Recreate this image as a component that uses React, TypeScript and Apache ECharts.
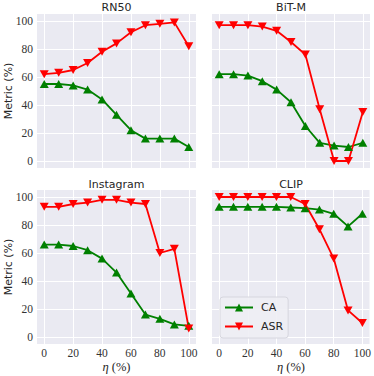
import React, { useEffect, useRef } from "react";
import * as echarts from "echarts";

const X = [0, 10, 20, 30, 40, 50, 60, 70, 80, 90, 100];
const TICKS = [0, 20, 40, 60, 80, 100];
const TITLES = ["RN50", "BiT-M", "Instagram", "CLIP"];
const RN50_CA = [55, 55, 54, 51, 44, 33, 22, 16, 16, 16, 10];
const RN50_ASR = [62, 63, 65, 70, 78, 84, 92, 97, 98, 99, 82];
const BITM_CA = [62, 62, 61, 57, 51, 42, 25, 13, 11, 10, 13];
const BITM_ASR = [97, 97, 97, 96, 93, 85, 76, 37, 0, 0, 35];
const INSTA_CA = [66, 66, 65, 62, 56, 46, 31, 16, 13, 9, 8];
const INSTA_ASR = [93, 93, 95, 96, 98, 98, 96, 95, 60, 63, 6];
const CLIP_CA = [93, 93, 93, 93, 93, 92.5, 92, 91, 88, 79, 88];
const CLIP_ASR = [100, 100, 100, 100, 100, 100, 95, 77, 56, 19, 10];

const CA_SETS = [RN50_CA, BITM_CA, INSTA_CA, CLIP_CA];
const ASR_SETS = [RN50_ASR, BITM_ASR, INSTA_ASR, CLIP_ASR];

export default function App() {
  const ref = useRef<HTMLDivElement>(null);
  useEffect(() => {
    if (!ref.current) return;
    const chart = echarts.init(ref.current, null, { renderer: "svg" });
    const grids = [
      { left: 37, top: 14, width: 159, height: 154 },
      { left: 212, top: 14, width: 158, height: 154 },
      { left: 37, top: 190, width: 159, height: 154 },
      { left: 212, top: 190, width: 158, height: 154 },
    ];
    const tickFont = {
      fontFamily: "Liberation Serif",
      fontSize: 11.5,
      color: "#333",
    };
    const xAxis = grids.map((_, i) => ({
      type: "value",
      gridIndex: i,
      min: -5,
      max: 105,
      axisLine: { show: false },
      axisTick: { show: false, customValues: TICKS },
      axisLabel: {
        show: i >= 2,
        customValues: TICKS,
        margin: 3,
        ...tickFont,
      },
      splitLine: { show: true, lineStyle: { color: "#ffffff", width: 1 } },
    }));
    const yAxis = grids.map((_, i) => ({
      type: "value",
      gridIndex: i,
      min: -5,
      max: 105,
      axisLine: { show: false },
      axisTick: { show: false, customValues: TICKS },
      axisLabel: {
        show: i % 2 === 0,
        customValues: TICKS,
        margin: 4,
        ...tickFont,
      },
      splitLine: { show: true, lineStyle: { color: "#ffffff", width: 1 } },
    }));
    const series: any[] = [];
    grids.forEach((_, i) => {
      series.push({
        type: "line",
        name: "CA",
        xAxisIndex: i,
        yAxisIndex: i,
        data: X.map((x, k) => [x, CA_SETS[i][k]]),
        symbol: "triangle",
        symbolSize: [9, 8],
        color: "#008000",
        lineStyle: { width: 1.8, color: "#008000" },
        itemStyle: { color: "#008000" },
        clip: false,
      });
      series.push({
        type: "line",
        name: "ASR",
        xAxisIndex: i,
        yAxisIndex: i,
        data: X.map((x, k) => [x, ASR_SETS[i][k]]),
        symbol: "triangle",
        symbolRotate: 180,
        symbolSize: [9, 8],
        color: "#ff0000",
        lineStyle: { width: 1.8, color: "#ff0000" },
        itemStyle: { color: "#ff0000" },
        clip: false,
      });
    });
    const centers = grids.map((g) => g.left + g.width / 2);
    const titleY = [7, 7, 184, 184];
    const graphic: any[] = [];
    TITLES.forEach((t, i) => {
      graphic.push({
        type: "text",
        x: centers[i],
        y: titleY[i],
        style: {
          text: t,
          fontFamily: "DejaVu Sans",
          fontSize: 11,
          fill: "#262626",
          textAlign: "center",
          textVerticalAlign: "middle",
        },
      });
    });
    [91, 267].forEach((cy) => {
      graphic.push({
        type: "text",
        x: 8,
        y: cy,
        rotation: Math.PI / 2,
        style: {
          text: "Metric (%)",
          fontFamily: "DejaVu Sans",
          fontSize: 11,
          fill: "#262626",
          textAlign: "center",
          textVerticalAlign: "middle",
        },
      });
    });
    [centers[2], centers[3]].forEach((cx) => {
      graphic.push({
        type: "text",
        x: cx,
        y: 367,
        style: {
          text: "{i|η} (%)",
          fontFamily: "Liberation Serif",
          fontSize: 12.5,
          fill: "#262626",
          textAlign: "center",
          textVerticalAlign: "middle",
          rich: {
            i: {
              fontFamily: "Liberation Serif",
              fontStyle: "italic",
              fontSize: 12.5,
              fill: "#262626",
            },
          },
        },
      });
    });
    chart.setOption({
      animation: false,
      backgroundColor: "#ffffff",
      grid: grids.map((g) => ({
        ...g,
        show: true,
        backgroundColor: "#EAEAF2",
        borderWidth: 0,
      })),
      xAxis,
      yAxis,
      series,
      legend: {
        data: ["CA", "ASR"],
        orient: "vertical",
        left: 220,
        top: 297,
        padding: [5, 5, 6, 4],
        itemGap: 8,
        itemWidth: 28,
        itemHeight: 10,
        backgroundColor: "rgba(238,238,244,0.9)",
        borderColor: "#D6D6DE",
        borderWidth: 1,
        borderRadius: 3,
        textStyle: {
          fontFamily: "DejaVu Sans",
          fontSize: 11,
          color: "#262626",
          padding: [0, 0, 0, 3],
        },
      },
      graphic,
    });
    return () => chart.dispose();
  }, []);
  return (
    <div
      ref={ref}
      style={{ position: "fixed", left: 0, top: 0, width: 374, height: 376 }}
    />
  );
}
